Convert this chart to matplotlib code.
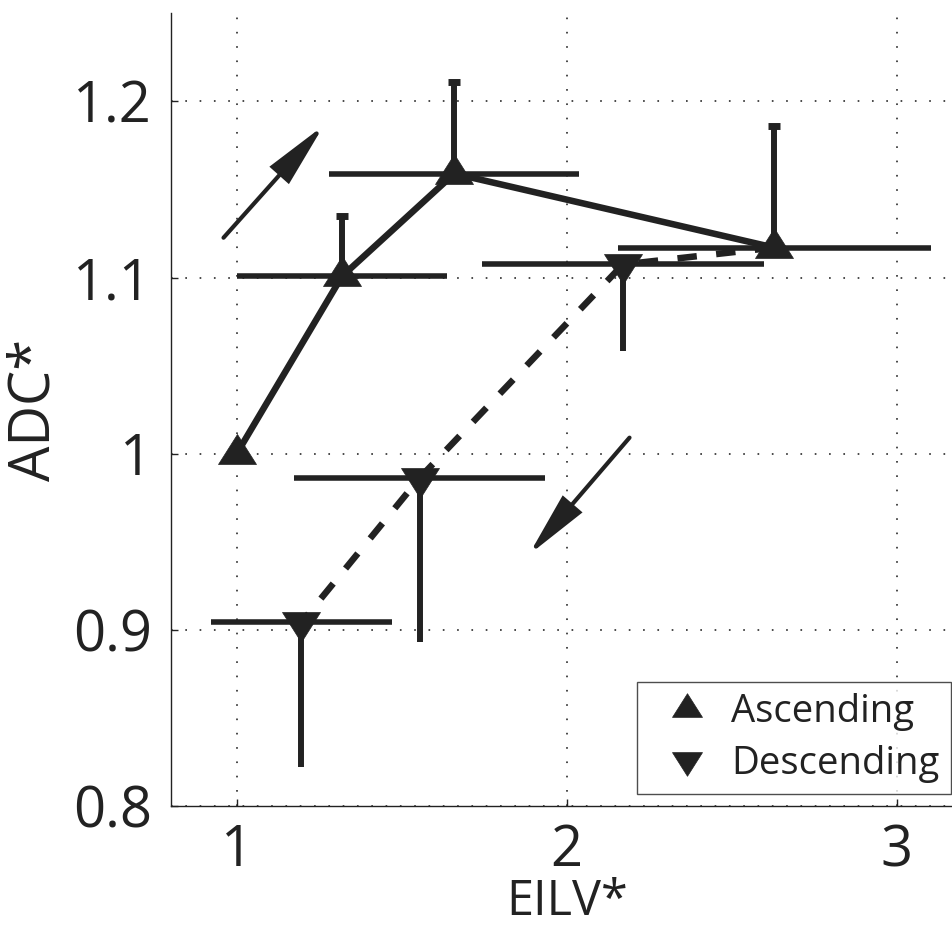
import matplotlib
matplotlib.use("Agg")
import matplotlib.pyplot as plt
from matplotlib.path import Path
from matplotlib.lines import Line2D

# ---------------- data ----------------
eilv_asc = [1.0, 1.319, 1.659, 2.628]
adc_asc = [1.0, 1.1007, 1.159, 1.117]
eilv_asc_err = [0.0, 0.319, 0.378, 0.474]
adc_asc_err_up = [0.0, 0.034, 0.052, 0.069]
adc_asc_err_low = [0.0, 0.0, 0.0, 0.0]

eilv_desc = [2.170, 1.554, 1.196]
adc_desc = [1.1074, 0.9862, 0.9042]
eilv_desc_err = [0.426, 0.381, 0.275]
adc_desc_err_down = [0.049, 0.093, 0.082]
adc_desc_err_high = [0.0, 0.0, 0.0]

# direction arrows (tail -> tip), data coordinates
arrow_up_tail = (0.960, 1.1226)
arrow_up_tip = (1.264, 1.1864)
arrow_down_tail = (2.190, 1.0091)
arrow_down_tip = (1.885, 0.9426)

xticks = [1, 2, 3]
xtick_labels = ["1", "2", "3"]
yticks = [0.8, 0.9, 1.0, 1.1, 1.2]
ytick_labels = ["0.8", "0.9", "1", "1.1", "1.2"]
series_labels = ["Ascending", "Descending"]

# ---------------- style ----------------
plt.rcParams["font.family"] = ["Open Sans", "DejaVu Sans"]
plt.rcParams["lines.scale_dashes"] = False
C = "#222222"

W, H, DPI = 952, 927, 100
fig = plt.figure(figsize=(W / DPI, H / DPI), dpi=DPI)
ax = fig.add_axes([170.7 / W, (H - 806) / H, 792.2 / W, 792.7 / H])
ax.set_xlim(0.8, 3.2)
ax.set_ylim(0.8, 1.25)

# triangle markers (centroid at data point)
up_tri = Path([(0, 20), (-19, -10), (19, -10), (0, 20)],
              [Path.MOVETO, Path.LINETO, Path.LINETO, Path.CLOSEPOLY])
down_tri = Path([(0, -20), (-19, 10), (19, 10), (0, -20)],
                [Path.MOVETO, Path.LINETO, Path.LINETO, Path.CLOSEPOLY])
MS = 40 * 72 / DPI

# grid
ax.grid(True, color="#2a2a2a", linestyle=(0, (1.2, 9.1)), linewidth=1.2)
ax.set_axisbelow(True)

# horizontal error bars
ax.errorbar(eilv_asc, adc_asc, xerr=eilv_asc_err, fmt="none",
            ecolor=C, elinewidth=4.0, capsize=0, zorder=3)
ax.errorbar(eilv_desc, adc_desc, xerr=eilv_desc_err, fmt="none",
            ecolor=C, elinewidth=4.0, capsize=0, zorder=3)
# vertical one-sided error bars
ax.errorbar(eilv_asc, adc_asc, yerr=[adc_asc_err_low, adc_asc_err_up], fmt="none",
            ecolor=C, elinewidth=4.3, capsize=4.0, capthick=5.0, zorder=3)
ax.errorbar(eilv_desc, adc_desc, yerr=[adc_desc_err_down, adc_desc_err_high], fmt="none",
            ecolor=C, elinewidth=4.3, capsize=0, zorder=3)

# connecting lines
ax.plot(eilv_asc, adc_asc, "-", color=C, lw=4.7, solid_capstyle="butt", zorder=4)
desc_path_x = [eilv_asc[-1]] + eilv_desc
desc_path_y = [adc_asc[-1]] + adc_desc
ax.plot(desc_path_x, desc_path_y, color=C, lw=4.7, linestyle=(0, (14, 14)),
        dash_capstyle="butt", zorder=4)

# markers
ax.plot(eilv_asc, adc_asc, ls="none", marker=up_tri, ms=MS, color=C,
        mec=C, mew=0.5, zorder=5)
ax.plot(eilv_desc, adc_desc, ls="none", marker=down_tri, ms=MS, color=C,
        mec=C, mew=0.5, zorder=5)

# arrows
for tail, tip in [(arrow_up_tail, arrow_up_tip), (arrow_down_tail, arrow_down_tip)]:
    ax.annotate("", xy=tip, xytext=tail,
                arrowprops=dict(arrowstyle="-|>,head_length=1.95,head_width=0.38",
                                mutation_scale=20, lw=3.0, color=C,
                                shrinkA=0, shrinkB=0, joinstyle="miter"),
                zorder=6)

# axes styling
for s in ["top", "right"]:
    ax.spines[s].set_visible(False)
for s in ["left", "bottom"]:
    ax.spines[s].set_color(C)
    ax.spines[s].set_linewidth(1.0)
ax.set_xticks(xticks)
ax.set_xticklabels(xtick_labels)
ax.set_yticks(yticks)
ax.set_yticklabels(ytick_labels)
ax.tick_params(axis="both", direction="in", length=5, width=1.0, colors=C,
               labelsize=40.3, labelcolor=C)
ax.tick_params(axis="x", pad=12.5)
ax.tick_params(axis="y", pad=13.5)
ax.set_xlabel("EILV*", fontsize=35, color=C, labelpad=-2)
ax.set_ylabel("ADC*", fontsize=40.3, color=C, labelpad=7)

# legend
LMS = 31.6 * 72 / DPI
handles = [Line2D([], [], ls="none", marker=up_tri, ms=LMS, color=C, mec=C, mew=0.5),
           Line2D([], [], ls="none", marker=down_tri, ms=LMS, color=C, mec=C, mew=0.5)]
leg = ax.legend(handles, series_labels, loc="lower right",
                bbox_to_anchor=(950.7 / W, (H - 794.3) / H),
                bbox_transform=fig.transFigure, fontsize=27.5,
                frameon=True, fancybox=False, borderpad=0.3, labelspacing=0.35,
                handlelength=2.0, handletextpad=0.15, borderaxespad=0)
leg.get_frame().set_edgecolor(C)
leg.get_frame().set_linewidth(1.0)
for t in leg.get_texts():
    t.set_color(C)

fig.savefig("out.png", dpi=DPI)
